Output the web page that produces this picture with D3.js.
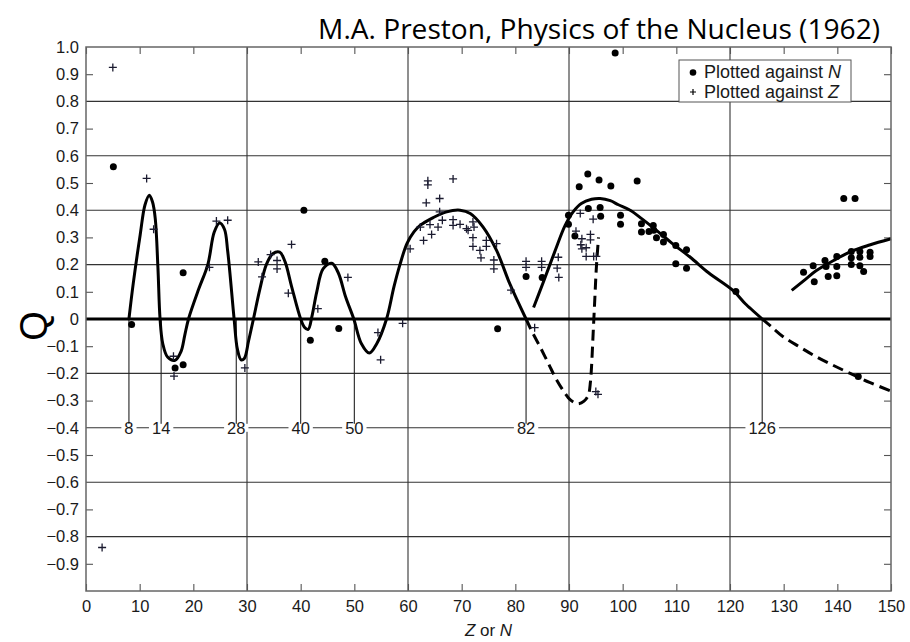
<!DOCTYPE html>
<html><head><meta charset="utf-8">
<script src="https://cdn.jsdelivr.net/npm/d3@7"></script>
<style>body{margin:0;background:#fff}</style>
</head><body><svg id="c" width="910" height="642"></svg>
<script>
// ---------- data ----------
const xTickValues = [0,10,20,30,40,50,60,70,80,90,100,110,120,130,140,150];
const yTickValues = [1.0,0.9,0.8,0.7,0.6,0.5,0.4,0.3,0.2,0.1,0,-0.1,-0.2,-0.3,-0.4,-0.5,-0.6,-0.7,-0.8,-0.9];
const yMinorTicks = [0.9,0.7,0.5,0.3,0.1,-0.1,-0.3,-0.5,-0.7,-0.9];
const yGrid = [0.8,0.6,0.4,0.2,-0.2,-0.4,-0.6,-0.8];
const xGrid = [30,60,90,120];
const magicNumbers = [8,14,28,40,50,82,126];

// points plotted against N  [N, Q]
const pointsN = [
 [5.1,0.56],[8.5,-0.02],[16.6,-0.18],[18.1,-0.168],[18.1,0.17],[40.6,0.4],[41.8,-0.078],[44.5,0.212],
 [47.1,-0.035],[76.7,-0.036],[82.0,0.156],[85.0,0.153],[89.9,0.381],[89.9,0.348],[91.1,0.305],[91.9,0.486],
 [93.5,0.533],[93.6,0.406],[95.6,0.511],[95.8,0.41],[95.9,0.378],[97.8,0.489],[98.6,0.978],[99.6,0.381],
 [99.6,0.348],[102.7,0.507],[103.5,0.35],[103.5,0.32],[104.9,0.322],[105.7,0.344],[105.8,0.326],[106.3,0.299],
 [107.6,0.311],[107.6,0.283],[109.9,0.27],[109.9,0.203],[111.9,0.255],[111.9,0.187],[121.1,0.101],
 [133.7,0.172],[135.5,0.196],[135.7,0.137],[137.7,0.215],[137.9,0.193],[138.3,0.156],[139.9,0.159],
 [139.9,0.23],[139.9,0.193],[141.2,0.443],[143.3,0.443],[142.6,0.248],[142.6,0.225],[142.6,0.2],
 [144.2,0.248],[144.2,0.227],[144.2,0.196],[144.9,0.175],[146.1,0.245],[146.1,0.23],[143.9,-0.211]
];
// points plotted against Z  [Z, Q]
const pointsZ = [
 [5.0,0.925],[3.0,-0.84],[11.3,0.517],[12.6,0.33],[16.3,-0.137],[16.4,-0.21],[23.0,0.19],[24.3,0.36],
 [26.4,0.363],[29.6,-0.18],[32.1,0.21],[32.8,0.155],[34.4,0.237],[35.6,0.215],[35.6,0.184],[37.7,0.095],
 [38.3,0.274],[43.2,0.038],[48.8,0.153],[54.4,-0.05],[54.9,-0.15],[59.0,-0.016],[60.4,0.258],[62.3,0.338],
 [62.9,0.289],[63.4,0.427],[63.7,0.508],[63.7,0.493],[64.1,0.347],[64.4,0.311],[65.6,0.338],[65.9,0.443],
 [65.9,0.394],[66.4,0.363],[68.4,0.515],[68.4,0.365],[68.4,0.344],[69.7,0.348],[70.9,0.332],[71.2,0.326],
 [72.1,0.357],[72.3,0.338],[72.1,0.299],[72.1,0.267],[73.4,0.252],[73.6,0.225],[74.6,0.289],[74.6,0.267],
 [76.0,0.217],[76.0,0.184],[76.5,0.277],[79.2,0.106],[82.0,0.212],[82.0,0.19],[83.6,-0.032],[84.9,0.212],
 [84.9,0.19],[88.0,0.227],[87.8,0.187],[88.1,0.153],[91.3,0.323],[92.1,0.388],[92.4,0.295],[92.2,0.273],
 [92.4,0.258],[93.2,0.262],[93.2,0.23],[94.0,0.311],[94.0,0.291],[94.5,0.367],[94.6,0.23],[95.1,0.23],
 [95.0,-0.267],[95.4,-0.277]
];

// theoretical curves
const curveSolid1 = [
 [8,0],[8.8,0.13],[10.1,0.31],[11.0,0.42],[11.8,0.455],[12.4,0.43],[12.9,0.37],[13.4,0.19],[13.8,0],
 [14.3,-0.09],[15.2,-0.14],[16.6,-0.152],[17.7,-0.12],[18.4,-0.06],[19.1,0],[21.0,0.11],[22.7,0.2],
 [23.9,0.32],[24.9,0.353],[25.8,0.33],[26.4,0.25],[27.6,0],[28.2,-0.11],[28.9,-0.15],[29.5,-0.145],
 [30.3,-0.08],[31.2,0],[32.4,0.11],[33.6,0.2],[34.8,0.24],[36.1,0.246],[37.1,0.21],[38.3,0.12],[40.0,0],
 [40.7,-0.03],[41.4,-0.038],[42.1,0.01],[43.0,0.1],[44.2,0.185],[45.8,0.205],[47.0,0.17],[48.4,0.08],
 [49.9,0],[51.3,-0.09],[52.8,-0.125],[54.2,-0.09],[56.0,0],[57.4,0.12],[58.5,0.2],[59.8,0.277],
 [61.1,0.32],[62.3,0.345],[64.7,0.373],[67.2,0.394],[69.7,0.4],[71.6,0.388],[74.0,0.338],[76.5,0.252],
 [79.0,0.128],[82,0]
];
const curveSolid2 = [
 [83.4,0.042],[85.3,0.14],[87.3,0.245],[89.3,0.345],[90.8,0.395],[92.3,0.425],[94.2,0.44],[95.8,0.443],
 [97.7,0.435],[99.2,0.42],[101.4,0.4],[103.6,0.368],[106.3,0.326],[109.1,0.28],[112.6,0.227],[116.0,0.17],
 [120.6,0.104],[122.9,0.055],[126,0]
];
const curveDashed1 = [
 [126,0],[127.8,-0.03],[129.9,-0.065],[133,-0.103],[136.1,-0.139],[139.3,-0.171],[142.4,-0.2],
 [146,-0.233],[150,-0.265]
];
const curveSolid3 = [
 [131.5,0.105],[134,0.145],[136.1,0.178],[139.3,0.215],[142.4,0.247],[146,0.272],[150,0.295]
];
const curveDashed2 = [
 [82,0],[83.2,-0.05],[84.6,-0.102],[86.2,-0.165],[87.7,-0.224],[89.9,-0.29],[90.8,-0.305],[91.7,-0.312],
 [92.8,-0.302],[93.6,-0.28],[94.0,-0.23],[94.2,-0.175],[94.5,-0.053],[94.8,0.07],[95.1,0.19],[95.5,0.3]
];

const titleText = "M.A. Preston, Physics of the Nucleus (1962)";

// ---------- drawing ----------
const svg = d3.select('#c');
const L = 86, R = 891, T = 47, B = 591;
const x = d3.scaleLinear().domain([0,150]).range([L,R]);
const y = d3.scaleLinear().domain([-1,1]).range([B,T]);
const ink = '#1a1a1a';
const font = "'Liberation Sans', Arial, sans-serif";

// grid
svg.append('g').selectAll('line').data(yGrid).join('line')
  .attr('x1',L).attr('x2',R).attr('y1',d=>y(d)).attr('y2',d=>y(d))
  .attr('stroke','#333').attr('stroke-width',1.1);
svg.append('g').selectAll('line').data(xGrid).join('line')
  .attr('y1',T).attr('y2',B).attr('x1',d=>x(d)).attr('x2',d=>x(d))
  .attr('stroke','#333').attr('stroke-width',1.1);

// magic number lines
svg.append('g').selectAll('line').data(magicNumbers).join('line')
  .attr('x1',d=>x(d)).attr('x2',d=>x(d)).attr('y1',y(0)).attr('y2',y(-0.4))
  .attr('stroke','#222').attr('stroke-width',1.1);

// zero line
svg.append('line').attr('x1',L).attr('x2',R).attr('y1',y(0)).attr('y2',y(0))
  .attr('stroke','#000').attr('stroke-width',3);

// axes
function styleAxis(g){ g.select('.domain').remove(); g.selectAll('line').attr('stroke','#555').attr('stroke-width',1.1); g.selectAll('text').attr('fill',ink).style('font-family',font).style('font-size','16.5px'); }
svg.append('g').attr('transform',`translate(${L},0)`)
  .call(d3.axisLeft(y).tickValues(yTickValues).tickSize(0).tickPadding(7)
    .tickFormat(d=> d===0 ? '0' : d3.format('.1f')(d)))
  .call(styleAxis);
svg.append('g').attr('transform',`translate(${L},0)`)
  .call(d3.axisRight(y).tickValues(yMinorTicks).tickSize(7).tickFormat(''))
  .call(styleAxis);
svg.append('g').attr('transform',`translate(${R},0)`)
  .call(d3.axisLeft(y).tickValues(yMinorTicks).tickSize(7).tickFormat(''))
  .call(styleAxis);
svg.append('g').attr('transform',`translate(0,${B})`)
  .call(d3.axisBottom(x).tickValues(xTickValues).tickSize(-7).tickPadding(9).tickFormat(d3.format('d')))
  .call(styleAxis);
svg.append('g').attr('transform',`translate(0,${T})`)
  .call(d3.axisTop(x).tickValues(xTickValues).tickSize(-7).tickFormat(''))
  .call(styleAxis);

// curves
const line = d3.line().x(d=>x(d[0])).y(d=>y(d[1])).curve(d3.curveCatmullRom.alpha(0.5));
[[curveSolid1,null],[curveSolid2,null],[curveSolid3,null],[curveDashed1,'11,6'],[curveDashed2,'11,6']]
 .forEach(([data,dash])=>{
   svg.append('path').datum(data).attr('d',line).attr('fill','none')
     .attr('stroke','#000').attr('stroke-width',3).attr('stroke-linecap','butt')
     .attr('stroke-dasharray',dash);
 });

// magic labels
const mg = svg.append('g');
magicNumbers.forEach(m=>{
  const t = mg.append('text').attr('x',x(m)).attr('y',y(-0.4)+6).attr('text-anchor','middle')
    .style('font-family',font).style('font-size','16.5px').attr('fill',ink).text(m);
  const bb = t.node().getBBox();
  mg.insert('rect','text').attr('x',bb.x-3).attr('y',y(-0.4)-4).attr('width',bb.width+6).attr('height',8).attr('fill','#fff');
});

// points
svg.append('g').selectAll('circle').data(pointsN).join('circle')
  .attr('cx',d=>x(d[0])).attr('cy',d=>y(d[1])).attr('r',3.5).attr('fill','#000');
const plus = 'M-4,0H4M0,-4V4';
svg.append('g').selectAll('path').data(pointsZ).join('path')
  .attr('transform',d=>`translate(${x(d[0])},${y(d[1])})`).attr('d',plus)
  .attr('stroke','#1b1b30').attr('stroke-width',1.3).attr('fill','none');

// border
svg.append('rect').attr('x',L).attr('y',T).attr('width',R-L).attr('height',B-T)
  .attr('fill','none').attr('stroke','#666').attr('stroke-width',1.5);

// legend
const lg = svg.append('g');
lg.append('rect').attr('x',679).attr('y',60).attr('width',172).attr('height',42)
  .attr('fill','#fff').attr('stroke','#555').attr('stroke-width',1);
lg.append('circle').attr('cx',693).attr('cy',72.5).attr('r',3.3).attr('fill','#000');
lg.append('path').attr('transform','translate(693,92)').attr('d','M-3,0H3M0,-3V3').attr('stroke','#000').attr('stroke-width',1.2);
const t1 = lg.append('text').attr('x',704).attr('y',78).style('font-family',font).style('font-size','18px').attr('fill',ink);
t1.append('tspan').text('Plotted against ');
t1.append('tspan').attr('font-style','italic').text('N');
const t2 = lg.append('text').attr('x',704).attr('y',97.5).style('font-family',font).style('font-size','18px').attr('fill',ink);
t2.append('tspan').text('Plotted against ');
t2.append('tspan').attr('font-style','italic').text('Z');

// axis titles
const xl = svg.append('text').attr('x',(L+R)/2).attr('y',636).attr('text-anchor','middle')
  .style('font-family',font).style('font-size','17px').attr('fill',ink);
xl.append('tspan').attr('font-style','italic').text('Z');
xl.append('tspan').text(' or ');
xl.append('tspan').attr('font-style','italic').text('N');
svg.append('text').attr('transform','translate(47,326) rotate(-90)').attr('text-anchor','middle')
  .style('font-family',font).style('font-size','38px').attr('fill','#000').text('Q');

// title
const tt = svg.append('text').attr('x',880).attr('y',39).attr('text-anchor','end')
  .style('font-family',"'Open Sans', sans-serif").style('font-size','24px').attr('fill','#000').text(titleText);
const w = tt.node().getComputedTextLength();
tt.style('font-size', (24*562/w).toFixed(2)+'px');
</script>
</body></html>
